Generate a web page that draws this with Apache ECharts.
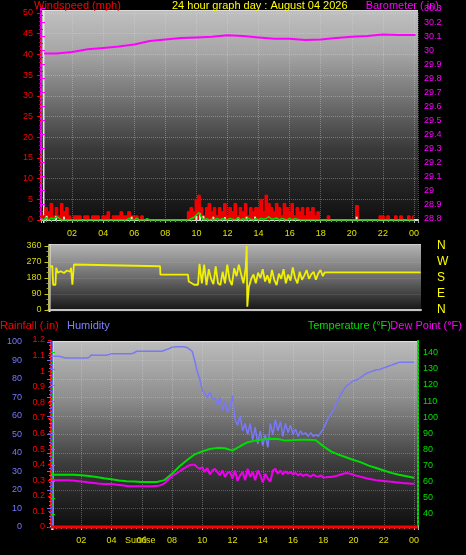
<!DOCTYPE html>
<html><head><meta charset="utf-8">
<script src="https://cdn.jsdelivr.net/npm/echarts@6/dist/echarts.min.js"></script>
<style>html,body{margin:0;padding:0;background:#000;}#c{width:466px;height:555px;}</style>
</head><body><div id="c"></div>
<script>
// ---------- DATA ----------
const hourTicks = ['02','04','06','08','10','12','14','16','18','20','22','00'];
const titleText = '24 hour graph day : August 04 2026';
// wind speed (mph), 10-minute samples from 00:00
const windSpeed = [
 3,1,3,2,4,1, 3,1,4,2,3,1, 0,1,1,1,0,1, 1,0,1,1,1,0, 1,1,2,0,1,1, 1,2,1,1,2,1,
 1,1,0,1,0,0, 0,0,0,0,0,0, 0,0,0,0,0,0, 0,0,0,2,3,2, 5,6,3,1,3,4, 2,3,1,3,2,4,
 1,3,2,4,1,3, 2,4,1,3,2,3, 3,5,2,6,4,3, 2,4,3,1,4,3, 2,4,1,3,2,3, 1,3,2,3,1,2,
 0,0,0,1,0,0, 0,0,0,0,0,0, 0,0,3.5,0,0,0, 0,0,0,0,0,1, 1,0,1,0,0,1, 0,1,0,0,1,0,
 1];
// average wind (mph), 10-minute samples
const windAvg = [
 0.3,0,0.6,0,0.5,0.2, 0.8,0.4,0,0,0,0, 0,0,0,0,0,0, 0,0,0,0,0,0, 0,0,0,0,0,0, 0,0,0,0,0.4,0,
 0,0.4,0,0,0,0.3, 0,0,0,0,0,0, 0,0,0,0,0,0, 0,0,0,0,0.3,0.6, 1.2,1.8,0.6,0,0.3,0, 0.2,0,0.4,0,0.3,0.2,
 0,0.4,0.2,0,0.5,0, 0.3,0,0.4,0.2,0,0.3, 0,0.4,0.2,0.4,0.8,0.2, 0.3,0.5,0,0.4,0.2,0, 0.4,0,0.3,0.2,0,0, 0,0,0,0,0,0,
 0,0,0,0,0,0, 0,0,0,0,0,0, 0,0,0,0,0,0, 0,0,0,0,0,0, 0,0,0,0,0,0, 0,0,0,0,0,0,
 0];
// light (gust) marks
const gustHours  = [0.36,0.96,1.48,5.83,10.0,10.23,10.45,11.09,11.84,12.7,13.23,13.77,20.31];
const gustValues = [1,1,0.8,0.8,1,1.6,1,0.8,0.7,0.6,0.8,0.8,0.8];
// barometer (in)
const baroHours  = [0.2,1,2,3,4,5,6,7,8,9,10,11,12,13,14,15,16,17,18,19,20,21,22,23,24.1];
const baroValues = [29.98,29.98,29.99,30.01,30.02,30.03,30.045,30.07,30.08,30.09,30.095,30.10,30.11,30.105,30.095,30.085,30.085,30.077,30.08,30.09,30.10,30.105,30.115,30.112,30.112];
// wind direction (deg)
const dirHours = [0.1,0.25,0.3,0.45,0.5,0.6,0.8,1.0,1.2,1.4,1.46,1.55,1.65,1.75,7.24,7.26,9.05,9.1,9.3,9.45,9.7,
 9.8,9.95,10.1,10.25,10.4,10.55,10.7,10.85,11.0,11.15,11.3,11.45,11.6,11.75,11.9,12.05,12.2,12.35,12.5,12.65,12.8,12.86,12.9,13.0,
 13.15,13.3,13.45,13.6,13.75,13.9,14.05,14.2,14.35,14.5,14.65,14.8,14.95,15.1,15.25,15.4,15.55,15.7,15.85,16.0,16.15,16.3,16.45,16.6,16.75,16.9,17.05,17.2,17.35,17.5,17.65,17.8,17.92,24.15];
const dirValues = [246,246,142,142,237,210,218,208,222,215,237,142,256,246,246,199,199,160,150,142,142,
 260,150,255,140,230,175,145,245,150,140,215,150,255,170,140,235,190,255,200,150,240,360,19,130,
 175,200,150,210,180,230,160,195,150,225,170,140,205,175,230,150,200,165,240,180,150,215,170,195,225,175,200,215,170,205,225,190,212,212];
const dirLetters = ['N','E','S','W','N'];
// humidity (%), 10-minute samples
const humidity = [
 92.3,92.3,92.3,92.3,92,91.6, 91.4,91.4,91.4,91.4,91.4,91.4, 91.4,91.4,91.4,91.6,93,92.8, 92.8,92.8,92.8,92.8,92.8,93.2,
 93.7,93.7,93.7,93.7,93.7,93.7, 93.7,93.7,93.7,94.2,95,95, 95,95,95,95,95,95, 95,95,95,95.5,96,96.5,
 97.2,97.3,97.5,97.5,97.4,97.3, 97,96,95,90,84,80, 74,72,70,73,69,70, 66,70,63,68,62,65,
 71,58,55,60,52,56, 50,56,47,54,45,52, 44,50,43,56,50,58, 52,57,49,56,51,55,
 50,53,49,52,50,51, 49,51,49,50,49,51, 53,56,59,61,63,66, 69,72,74,76,77,78,
 79,79.5,80,81,82,83, 83.5,84,84.5,85,85,85.5, 86,86.5,87,87.5,88,88.5, 89,89,89,89,89,89,
 89];
// temperature (F), 30-minute samples
const temperature = [64.4,64.4,64.4,64.4,64,63.5,63,62.2,61.5,60.8,60.3,60.2,59.8,59.8,59.8,61,65,69.6,73.5,77,78.8,80.3,81,80.8,
 79.3,82,84.5,85.5,86.2,86.7,86.5,85.5,85.8,86,86,85.8,82,78.8,76.8,75.2,73.5,72,70,68.5,67,65.5,64.3,63.4,62.5];
// dew point (F), 10-minute samples
const dewPoint = [
 61,61,61,61,61,61, 61,60.9,60.8,60.7,60.5,60.3, 60.1,60,59.8,59.6,59.4,59.2, 59,58.8,58.7,58.6,58.6,58.6,
 58.6,58.4,58.2,58,57.8,57.6, 57.4,57.2,57.2,57.2,57.2,57.2, 57.2,57.2,57.2,57.2,57.2,57.4, 57.4,57.6,58.2,59,60.5,62,
 63.5,64.5,65.4,66.5,67.5,68.5, 69.5,70.2,70.6,70.5,69,68, 69,66,68.5,64.5,67,68, 66,64,67,63,65.5,66,
 62,67,60.5,64,66,61, 68,63,66,61,67,64, 59.5,65,62,60,67,68, 65,67,64.5,66.5,65,66,
 64.5,65.5,64,65,63.5,64.5, 64,63,64.5,63.5,63,64, 62.7,62.8,63,63,63.2,63.5, 64,64.5,65,65.4,65.2,64.8,
 64.3,63.8,63.4,63,62.6,62.2, 61.9,61.6,61.3,61,60.8,60.6, 60.4,60.3,60.2,60,59.8,59.6, 59.5,59.3,59.1,59,58.9,58.8,
 58.8];
// rainfall (in)
const rainHours = [0,24.26];
const rainValues = [0,0];
const sunEventHours = [5.9,20.2];
const sunriseLabel = 'Sunrise';

// ---------- CHART ----------
const FONT = 'Liberation Sans';
const XMAX = 24.26;
const ev10 = arr => arr.map((v,i)=>[i/6, v]);
const ev30 = arr => arr.map((v,i)=>[i/2, v]);
const zip = (xs, ys) => xs.map((x,i)=>[x, ys[i]]);
const hourLabel = v => {
  const r = Math.round(v);
  if (Math.abs(v - r) > 1e-6 || r <= 0 || r % 2) return '';
  return hourTicks[r/2 - 1] || '';
};
const grad = stops => new echarts.graphic.LinearGradient(0,0,0,1,stops.map(s=>({offset:s[0],color:s[1]})));
const bg = (x,y,w,h,stops)=>({type:'rect', z:-10, silent:true, shape:{x,y,width:w,height:h}, style:{fill:grad(stops)}});
const line = (x,y,w,h,c)=>({type:'rect', z:-9, silent:true, shape:{x,y,width:w,height:h}, style:{fill:c}});
const lab = (c, extra) => Object.assign({color:c, fontSize:9, fontFamily:FONT}, extra||{});
const dotted = c => ({show:true, lineStyle:{color:c, type:'dotted', width:1}});
const ttl = (text, pos, color) => Object.assign({text, padding:0, textStyle:{color, fontSize:11, fontWeight:'normal', fontFamily:FONT}}, pos);

const chart = echarts.init(document.getElementById('c'), null, {renderer:'canvas', width:466, height:555});
const gridBase = {outerBoundsMode:'none', containLabel:false};
const option = {
  backgroundColor:'#000',
  animation:false,
  title:[
    ttl('Windspeed (mph)', {left:34, top:0}, '#ff0000'),
    ttl(titleText, {left:172, top:0}, '#ffff00'),
    ttl('Barometer (.in)', {right:27, top:0}, '#ff00ff'),
    ttl('Rainfall (.in)', {left:0, top:320}, '#ff0000'),
    ttl('Humidity', {left:67, top:320}, '#8080ff'),
    ttl('Temperature (°F)', {right:75, top:320}, '#00e000'),
    ttl('Dew Point (°F)', {right:4, top:320}, '#ff00ff')
  ],
  graphic:{elements:[
    bg(42,10,376,213,[[0,'#c0c0c0'],[0.2,'#a6a6a6'],[0.65,'#3a3a3a'],[1,'#0e0e0e']]),
    line(42,10,376,1,'#dcdcdc'), line(43,10,1.5,213,'#e8e8e8'),
    bg(49,244,372,68,[[0,'#b4b4b4'],[0.5,'#6a6a6a'],[1,'#111111']]),
    line(49,244,372,1,'#d0d0d0'), line(48.5,244,2,68,'#eeeeee'),
    bg(52,341,366,189,[[0,'#bcbcbc'],[0.3,'#8e8e8e'],[0.65,'#3c3c3c'],[1,'#0c0c0c']]),
    line(52,341,366,1,'#dcdcdc'), line(52,341,1.5,189,'#f0f0f0')
  ]},
  grid:[
    Object.assign({left:41, top:13, width:377, height:207}, gridBase),
    Object.assign({left:41, top:8.7, width:377, height:210}, gridBase),
    Object.assign({left:48.5, top:246, width:372.5, height:64}, gridBase),
    Object.assign({left:51, top:342, width:367, height:185}, gridBase),
    Object.assign({left:51, top:340, width:367, height:187}, gridBase),
    Object.assign({left:51, top:352.7, width:367, height:161.3}, gridBase)
  ],
  xAxis:[
    {gridIndex:0, type:'value', min:0, max:XMAX, interval:2, offset:3,
     axisLine:{show:true, lineStyle:{color:'#c8ecc8', width:2}},
     axisTick:{show:true, length:3, lineStyle:{color:'#b0b0b0'}},
     minorTick:{show:true, splitNumber:6, length:2, lineStyle:{color:'#909090'}},
     axisLabel:lab('#e0e000',{margin:6, formatter:hourLabel}),
     splitLine:dotted('rgba(220,220,220,0.35)')},
    {gridIndex:1, type:'value', min:0, max:XMAX, show:false},
    {gridIndex:2, type:'value', min:0, max:24.17, offset:2,
     axisLine:{show:true, lineStyle:{color:'#c4c4c4', width:2}},
     axisTick:{show:false}, axisLabel:{show:false}, splitLine:{show:false}},
    {gridIndex:3, type:'value', min:0, max:XMAX, interval:2, offset:3,
     axisLine:{show:true, lineStyle:{color:'#d8d8d8', width:2}},
     axisTick:{show:true, length:3, lineStyle:{color:'#b0b0b0'}},
     minorTick:{show:true, splitNumber:6, length:2, lineStyle:{color:'#909090'}},
     axisLabel:lab('#e0e000',{margin:6, formatter:hourLabel}),
     splitLine:dotted('rgba(220,220,220,0.35)')},
    {gridIndex:4, type:'value', min:0, max:XMAX, show:false},
    {gridIndex:5, type:'value', min:0, max:XMAX, show:false}
  ],
  yAxis:[
    {gridIndex:0, type:'value', position:'left', min:0, max:50, interval:5,
     axisLine:{show:true, lineStyle:{color:'#ff0000', type:'dotted', width:2}},
     axisTick:{show:true, length:4, lineStyle:{color:'#ff0000'}},
     minorTick:{show:true, splitNumber:5, length:2, lineStyle:{color:'#cc0000'}},
     axisLabel:lab('#ff0000',{margin:8}),
     splitLine:dotted('rgba(220,220,220,0.35)')},
    {gridIndex:1, type:'value', position:'right', min:28.8, max:30.3, interval:0.1,
     axisLine:{show:true, lineStyle:{color:'#ff00ff', type:'dotted', width:2}},
     axisTick:{show:true, length:4, lineStyle:{color:'#ff00ff'}},
     minorTick:{show:true, splitNumber:2, length:2, lineStyle:{color:'#cc00cc'}},
     axisLabel:lab('#ff00ff',{margin:6}),
     splitLine:{show:false}},
    {gridIndex:2, type:'value', position:'left', min:0, max:360, interval:90,
     axisLine:{show:true, lineStyle:{color:'#b8b868', width:2}},
     axisTick:{show:true, length:4, lineStyle:{color:'#c8c800'}},
     minorTick:{show:true, splitNumber:3, length:2, lineStyle:{color:'#a8a800'}},
     axisLabel:lab('#d8d800',{margin:7}),
     splitLine:dotted('rgba(200,200,200,0.25)')},
    {gridIndex:2, type:'value', position:'right', min:0, max:360, interval:90,
     axisLine:{show:false}, axisTick:{show:false}, splitLine:{show:false},
     axisLabel:lab('#ffff00',{fontSize:12, margin:16, formatter:v=>dirLetters[Math.round(v/90)]})},
    {gridIndex:3, type:'value', position:'left', offset:21, min:0, max:100, interval:10,
     axisLine:{show:true, lineStyle:{color:'#6a6af0', width:3}},
     axisTick:{show:true, length:4, lineStyle:{color:'#6a6af0'}},
     minorTick:{show:true, splitNumber:5, length:2, lineStyle:{color:'#6a6af0'}},
     axisLabel:lab('#7878ff',{margin:8}),
     splitLine:dotted('rgba(220,220,220,0.3)')},
    {gridIndex:4, type:'value', position:'left', offset:1, min:0, max:1.2, interval:0.1,
     axisLine:{show:true, lineStyle:{color:'#ff0000', type:'dotted', width:2}},
     axisTick:{show:true, length:3, lineStyle:{color:'#ff0000'}},
     axisLabel:lab('#ff0000',{margin:5}),
     splitLine:{show:false}},
    {gridIndex:4, type:'value', position:'right', min:0, max:1.2,
     axisLine:{show:true, lineStyle:{color:'#00e000', type:'dotted', width:2}},
     axisTick:{show:false}, axisLabel:{show:false}, splitLine:{show:false}},
    {gridIndex:5, type:'value', position:'right', min:40, max:140, interval:10,
     axisLine:{show:false},
     axisTick:{show:true, length:4, lineStyle:{color:'#00e000'}},
     minorTick:{show:true, splitNumber:5, length:2, lineStyle:{color:'#00c000'}},
     axisLabel:lab('#00e000',{margin:5}),
     splitLine:{show:false}}
  ],
  series:[
    {name:'Wind', type:'line', xAxisIndex:0, yAxisIndex:0, data:ev10(windSpeed), step:'middle',
     symbol:'none', lineStyle:{color:'#ff0000', width:1}, areaStyle:{color:'#ee0000', opacity:1}, z:2},
    {name:'Gust', type:'bar', xAxisIndex:0, yAxisIndex:0, data:zip(gustHours, gustValues),
     barWidth:2, itemStyle:{color:'#d8f5d0'}, z:3},
    {name:'Avg', type:'line', xAxisIndex:0, yAxisIndex:0, data:ev10(windAvg), symbol:'none',
     lineStyle:{color:'#00e000', width:1.5}, z:4},
    {name:'Baro', type:'line', xAxisIndex:1, yAxisIndex:1, data:zip(baroHours, baroValues), symbol:'none',
     lineStyle:{color:'#ff00ff', width:2}, z:4},
    {name:'Dir', type:'line', xAxisIndex:2, yAxisIndex:2, data:zip(dirHours, dirValues), symbol:'none',
     lineStyle:{color:'#f0f000', width:1.8}, z:4},
    {name:'Humidity', type:'line', xAxisIndex:3, yAxisIndex:4, data:ev10(humidity), symbol:'none',
     lineStyle:{color:'#7878f8', width:1.5}, z:4},
    {name:'Temp', type:'line', xAxisIndex:5, yAxisIndex:7, data:ev30(temperature), symbol:'none',
     lineStyle:{color:'#00dd00', width:2}, z:4},
    {name:'Dew', type:'line', xAxisIndex:5, yAxisIndex:7, data:ev10(dewPoint), symbol:'none',
     lineStyle:{color:'#ee00ee', width:2}, z:4},
    {name:'Rain', type:'line', xAxisIndex:4, yAxisIndex:5, data:zip(rainHours, rainValues), symbol:'none',
     clip:false, lineStyle:{color:'#ff0000', width:3}, z:5,
     markLine:{silent:true, symbol:['none','none'], label:{show:false},
       lineStyle:{color:'#c8b400', width:2, type:'solid'},
       data:sunEventHours.map(h=>[{coord:[h,-0.025]},{coord:[h,0.1]}])}}
  ]
};
chart.setOption(option);
const sx = chart.convertToPixel({xAxisIndex:3}, sunEventHours[0]);
chart.setOption({graphic:{elements:[{id:'sunrise', type:'text', x:sx, y:541, silent:true,
  style:{text:sunriseLabel, fill:'#e0e000', font:'9px ' + FONT, align:'center', verticalAlign:'middle'}}]}});
</script>
</body></html>
